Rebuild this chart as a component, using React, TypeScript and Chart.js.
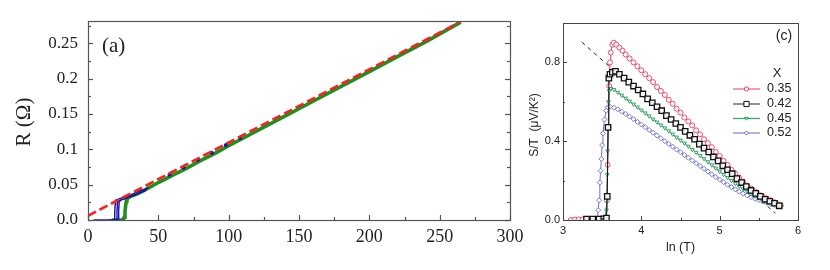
import React, { useEffect, useRef } from 'react';
import { Chart, registerables } from 'chart.js';
Chart.register(...registerables);

// ---------- Panel (a): R vs T ----------
const aXTicks = [0, 50, 100, 150, 200, 250, 300];
const aXMinor = [25, 75, 125, 175, 225, 275];
const aYTicks = [0, 0.05, 0.1, 0.15, 0.2, 0.25];
const aYTickLabels = ['0.0', '0.05', '0.1', '0.15', '0.2', '0.25'];
const aYMinor = [0.025, 0.075, 0.125, 0.175, 0.225, 0.275];

const aGreenT = [17, 20, 23, 25, 25.8, 26.3, 26.8, 27.3, 27.7, 30, 35, 40, 50, 60, 70, 80, 90, 100, 120, 140, 160, 180, 200, 220, 240, 265];
const aGreenR = [0, 0, 0, 0, 0.004, 0.012, 0.021, 0.027, 0.030, 0.033, 0.037, 0.042, 0.053, 0.063, 0.073, 0.084, 0.094, 0.105, 0.126, 0.147, 0.168, 0.189, 0.210, 0.231, 0.252, 0.280];

const aBlue1T = [4, 10, 15, 18.5, 19, 19.3, 19.6, 22, 25, 28, 31, 34, 37, 40, 43];
const aBlue1R = [0, 0, 0, 0, 0.010, 0.022, 0.028, 0.030, 0.032, 0.034, 0.036, 0.039, 0.042, 0.043, 0.046];
const aBlue2T = [15, 18, 20.3, 20.6, 21, 21.5, 23, 26, 30, 34, 38, 42];
const aBlue2R = [0, 0, 0, 0.012, 0.024, 0.027, 0.028, 0.030, 0.033, 0.036, 0.040, 0.044];
const aBlue3T = [17, 21.5, 21.8, 22.2, 24, 28, 33, 38, 41];
const aBlue3R = [0, 0, 0.014, 0.026, 0.029, 0.032, 0.035, 0.039, 0.042];
const aBlueDotT = [58, 68, 78, 88, 98, 108];
const aBlueDotR = [0.064, 0.074, 0.085, 0.095, 0.106, 0.116];

const aFitT = [0, 265];
const aFitR = [0.006, 0.2805];

// ---------- Panel (c): S/T vs ln T ----------
const cXTicks = [3, 4, 5, 6];
const cXMinor = [3.5, 4.5, 5.5];
const cYTicks = [0, 0.4, 0.8];
const cYTickLabels = ['0.0', '0.4', '0.8'];
const cYMinor = [0.2, 0.6, 1.0];
const cSeriesLabels = ['0.35', '0.42', '0.45', '0.52'];

const c035X = [3.10, 3.15, 3.20, 3.25, 3.30, 3.35, 3.40, 3.45, 3.50, 3.54, 3.56, 3.57, 3.58, 3.59, 3.60, 3.61, 3.63, 3.65, 3.68, 3.72, 3.76, 3.80, 3.85, 3.90, 3.95, 4.00, 4.05, 4.10, 4.15, 4.20, 4.25, 4.30, 4.35, 4.40, 4.45, 4.50, 4.55, 4.60, 4.65, 4.70, 4.75, 4.80, 4.85, 4.90, 4.95, 5.00, 5.05, 5.10, 5.15, 5.20, 5.25, 5.30, 5.35, 5.40, 5.45, 5.50, 5.55, 5.60, 5.65, 5.70, 5.75, 5.78];
const c035Y = [0.000, 0.002, 0.003, 0.003, 0.004, 0.004, 0.005, 0.005, 0.006, 0.010, 0.10, 0.28, 0.47, 0.68, 0.80, 0.85, 0.89, 0.90, 0.89, 0.875, 0.86, 0.84, 0.82, 0.80, 0.78, 0.76, 0.74, 0.72, 0.70, 0.675, 0.655, 0.635, 0.61, 0.59, 0.565, 0.545, 0.52, 0.50, 0.48, 0.455, 0.435, 0.41, 0.39, 0.37, 0.345, 0.325, 0.30, 0.28, 0.255, 0.235, 0.215, 0.195, 0.175, 0.16, 0.145, 0.13, 0.12, 0.11, 0.10, 0.09, 0.08, 0.075];

const c042X = [3.30, 3.38, 3.46, 3.52, 3.555, 3.565, 3.575, 3.585, 3.60, 3.63, 3.67, 3.72, 3.78, 3.84, 3.90, 3.96, 4.02, 4.08, 4.14, 4.20, 4.26, 4.32, 4.38, 4.44, 4.50, 4.56, 4.62, 4.68, 4.74, 4.80, 4.86, 4.92, 4.98, 5.04, 5.10, 5.16, 5.22, 5.28, 5.34, 5.40, 5.46, 5.52, 5.58, 5.64, 5.70, 5.76];
const c042Y = [0.005, 0.005, 0.005, 0.006, 0.01, 0.12, 0.47, 0.72, 0.74, 0.75, 0.755, 0.74, 0.72, 0.70, 0.68, 0.66, 0.64, 0.615, 0.595, 0.575, 0.555, 0.53, 0.51, 0.49, 0.47, 0.45, 0.43, 0.41, 0.385, 0.365, 0.345, 0.32, 0.30, 0.275, 0.255, 0.235, 0.21, 0.19, 0.17, 0.15, 0.135, 0.12, 0.105, 0.095, 0.085, 0.072];

const c045X = [3.30, 3.40, 3.50, 3.545, 3.555, 3.56, 3.565, 3.57, 3.575, 3.58, 3.59, 3.61, 3.65, 3.70, 3.75, 3.80, 3.85, 3.90, 3.95, 4.00, 4.05, 4.10, 4.15, 4.20, 4.25, 4.30, 4.35, 4.40, 4.45, 4.50, 4.55, 4.60, 4.65, 4.70, 4.75, 4.80, 4.85, 4.90, 4.95, 5.00, 5.05, 5.10, 5.15, 5.20, 5.25, 5.30, 5.35, 5.40, 5.45, 5.50, 5.55, 5.60, 5.65, 5.70, 5.75, 5.78];
const c045Y = [0.004, 0.005, 0.006, 0.01, 0.05, 0.12, 0.23, 0.35, 0.47, 0.60, 0.655, 0.667, 0.662, 0.648, 0.633, 0.618, 0.603, 0.588, 0.573, 0.558, 0.543, 0.528, 0.512, 0.497, 0.482, 0.467, 0.452, 0.436, 0.42, 0.405, 0.39, 0.374, 0.358, 0.343, 0.327, 0.311, 0.295, 0.279, 0.263, 0.247, 0.231, 0.215, 0.20, 0.185, 0.171, 0.157, 0.144, 0.132, 0.121, 0.111, 0.102, 0.094, 0.087, 0.08, 0.074, 0.07];

const c052X = [3.30, 3.36, 3.42, 3.44, 3.45, 3.46, 3.47, 3.48, 3.49, 3.50, 3.51, 3.53, 3.55, 3.57, 3.60, 3.65, 3.70, 3.75, 3.80, 3.85, 3.90, 3.95, 4.00, 4.05, 4.10, 4.15, 4.20, 4.25, 4.30, 4.35, 4.40, 4.45, 4.50, 4.55, 4.60, 4.65, 4.70, 4.75, 4.80, 4.85, 4.90, 4.95, 5.00, 5.05, 5.10, 5.15, 5.20, 5.25, 5.30, 5.35, 5.40, 5.45, 5.50, 5.55, 5.60, 5.65, 5.70, 5.75, 5.78];
const c052Y = [0.004, 0.005, 0.005, 0.01, 0.05, 0.10, 0.19, 0.25, 0.31, 0.38, 0.44, 0.51, 0.555, 0.572, 0.575, 0.57, 0.562, 0.55, 0.538, 0.525, 0.512, 0.498, 0.485, 0.471, 0.457, 0.443, 0.429, 0.415, 0.40, 0.386, 0.372, 0.358, 0.344, 0.33, 0.316, 0.302, 0.288, 0.274, 0.26, 0.246, 0.232, 0.218, 0.205, 0.192, 0.179, 0.167, 0.155, 0.144, 0.134, 0.125, 0.116, 0.108, 0.101, 0.094, 0.088, 0.082, 0.077, 0.072, 0.07];

const cGuideX = [3.24, 5.71];
const cGuideY = [0.903, 0.035];

function xy(xs: number[], ys: number[]) {
  return xs.map((x, i) => ({ x, y: ys[i] }));
}

type TickSpec = { major: number[]; minor: number[] };
function framePlugin(cfg: {
  color: string; width: number; majorLen: number; minorLen: number;
  left?: TickSpec; right?: TickSpec; bottom?: TickSpec;
}) {
  return {
    id: 'frameTicks',
    afterDatasetsDraw(chart: any) {
      const { ctx, chartArea: ca, scales } = chart;
      const xs = scales.x, ys = scales.y;
      ctx.save();
      ctx.strokeStyle = cfg.color;
      ctx.lineWidth = cfg.width;
      ctx.strokeRect(ca.left + 0.5, ca.top + 0.5, ca.right - ca.left, ca.bottom - ca.top);
      const line = (x1: number, y1: number, x2: number, y2: number) => {
        ctx.beginPath(); ctx.moveTo(x1, y1); ctx.lineTo(x2, y2); ctx.stroke();
      };
      if (cfg.left) {
        cfg.left.major.forEach(v => { const y = Math.round(ys.getPixelForValue(v)) + 0.5; line(ca.left, y, ca.left + cfg.majorLen, y); });
        cfg.left.minor.forEach(v => { const y = Math.round(ys.getPixelForValue(v)) + 0.5; line(ca.left, y, ca.left + cfg.minorLen, y); });
      }
      if (cfg.right) {
        cfg.right.major.forEach(v => { const y = Math.round(ys.getPixelForValue(v)) + 0.5; line(ca.right, y, ca.right - cfg.majorLen, y); });
        cfg.right.minor.forEach(v => { const y = Math.round(ys.getPixelForValue(v)) + 0.5; line(ca.right, y, ca.right - cfg.minorLen, y); });
      }
      if (cfg.bottom) {
        cfg.bottom.major.forEach(v => { const x = Math.round(xs.getPixelForValue(v)) + 0.5; line(x, ca.bottom, x, ca.bottom - cfg.majorLen); });
        cfg.bottom.minor.forEach(v => { const x = Math.round(xs.getPixelForValue(v)) + 0.5; line(x, ca.bottom, x, ca.bottom - cfg.minorLen); });
      }
      ctx.restore();
    },
  };
}

function textPlugin(draw: (ctx: CanvasRenderingContext2D, chart: any) => void) {
  return {
    id: 'texts',
    afterDraw(chart: any) {
      const ctx = chart.ctx;
      ctx.save();
      draw(ctx, chart);
      ctx.restore();
    },
  };
}

function fixedScale(width: number | null, height: number | null, ticks: number[]) {
  return {
    afterBuildTicks(scale: any) { scale.ticks = ticks.map(v => ({ value: v })); },
    afterFit(scale: any) {
      if (width !== null) scale.width = width;
      if (height !== null) scale.height = height;
      scale.paddingLeft = 0; scale.paddingRight = 0; scale.paddingTop = 0; scale.paddingBottom = 0;
    },
  };
}

const SERIF = "'Liberation Serif', serif";
const SANS = "'Liberation Sans', sans-serif";

function makeA(canvas: HTMLCanvasElement) {
  return new Chart(canvas, {
    type: 'scatter',
    data: {
      datasets: [
        { label: 'fit', data: xy(aFitT, aFitR), showLine: true, borderColor: '#ff1e1e', borderWidth: 2.6, borderDash: [9, 4], pointRadius: 0, order: 0 },
        { label: 'b1', data: xy(aBlue1T, aBlue1R), showLine: true, borderColor: '#1414a8', borderWidth: 1.4, pointRadius: 0, order: 1 },
        { label: 'b2', data: xy(aBlue2T, aBlue2R), showLine: true, borderColor: '#1414a8', borderWidth: 1.4, pointRadius: 0, order: 1 },
        { label: 'b3', data: xy(aBlue3T, aBlue3R), showLine: true, borderColor: '#1414a8', borderWidth: 1.4, pointRadius: 0, order: 1 },
        { label: 'bd', data: xy(aBlueDotT, aBlueDotR), showLine: false, backgroundColor: '#1414a8', borderColor: '#1414a8', pointRadius: 1.6, order: 1 },
        { label: 'g', data: xy(aGreenT, aGreenR), showLine: true, borderColor: '#1f8f1f', borderWidth: 3.6, pointRadius: 0, order: 2 },
      ],
    },
    options: {
      responsive: false, animation: false, devicePixelRatio: 1,
      layout: { padding: { left: 0, top: 21, right: 30, bottom: 0 } },
      plugins: { legend: { display: false }, tooltip: { enabled: false } },
      scales: {
        x: {
          type: 'linear', min: 0, max: 300,
          grid: { display: false, drawTicks: false }, border: { display: false },
          ticks: { padding: 6, color: '#222', font: { family: SERIF, size: 18 }, maxRotation: 0, callback: (v: any) => String(v) },
          ...fixedScale(null, 50, aXTicks),
        },
        y: {
          type: 'linear', min: 0, max: 0.2815,
          grid: { display: false, drawTicks: false }, border: { display: false },
          ticks: { padding: 10, color: '#222', font: { family: SERIF, size: 17 }, callback: (_v: any, i: number) => aYTickLabels[i] },
          ...fixedScale(88, null, aYTicks),
        },
      },
    },
    plugins: [
      framePlugin({ color: '#555', width: 1.2, majorLen: 5, minorLen: 3,
        left: { major: aYTicks, minor: aYMinor }, right: { major: aYTicks, minor: aYMinor }, bottom: { major: aXTicks, minor: aXMinor } }),
      textPlugin((ctx) => {
        ctx.fillStyle = '#222';
        ctx.font = `21px ${SERIF}`;
        ctx.textBaseline = 'middle';
        ctx.textAlign = 'left';
        ctx.fillText('(a)', 102, 46);
        ctx.translate(24, 122);
        ctx.rotate(-Math.PI / 2);
        ctx.textAlign = 'center';
        ctx.fillText('R (Ω)', 0, 0);
      }),
    ],
  } as any);
}

const cColors = ['#e8405e', '#111111', '#2a9a5c', '#6f6fc4'];
const cLegendColors = ['#e86a84', '#555555', '#3aaa6c', '#8c8cd0'];
const cStyles: any[] = [
  { pointStyle: 'circle', pointRadius: 2.5, pointRotation: 0 },
  { pointStyle: 'rect', pointRadius: 3.8, pointRotation: 0 },
  { pointStyle: 'triangle', pointRadius: 2.2, pointRotation: 180 },
  { pointStyle: 'rectRot', pointRadius: 2.5, pointRotation: 0 },
];

function makeC(canvas: HTMLCanvasElement) {
  const series = [xy(c035X, c035Y), xy(c042X, c042Y), xy(c045X, c045Y), xy(c052X, c052Y)];
  const order = [2, 0, 1, 3];
  const datasets: any[] = series.map((d, i) => ({
    label: cSeriesLabels[i], data: d, showLine: true,
    borderColor: cColors[i], borderWidth: 1,
    pointBorderColor: cColors[i], pointBackgroundColor: 'rgba(255,255,255,0.9)',
    pointBorderWidth: i === 1 ? 1.3 : 0.9,
    ...cStyles[i], order: order[i],
  }));
  datasets.push({ label: 'guide', data: xy(cGuideX, cGuideY), showLine: true, borderColor: '#222', borderWidth: 1, borderDash: [4, 4], pointRadius: 0, order: 5 });
  return new Chart(canvas, {
    type: 'scatter',
    data: { datasets },
    options: {
      responsive: false, animation: false, devicePixelRatio: 1,
      layout: { padding: { left: 0, top: 23, right: 32, bottom: 0 } },
      plugins: { legend: { display: false }, tooltip: { enabled: false } },
      scales: {
        x: {
          type: 'linear', min: 3, max: 6,
          grid: { display: false, drawTicks: false }, border: { display: false },
          ticks: { padding: 4, color: '#222', font: { family: SANS, size: 11 }, maxRotation: 0, callback: (v: any) => String(v) },
          ...fixedScale(null, 50, cXTicks),
        },
        y: {
          type: 'linear', min: 0, max: 1.0,
          grid: { display: false, drawTicks: false }, border: { display: false },
          ticks: { padding: 3, color: '#222', font: { family: SANS, size: 11 }, callback: (_v: any, i: number) => cYTickLabels[i] },
          ...fixedScale(43, null, cYTicks),
        },
      },
    },
    plugins: [
      framePlugin({ color: '#444', width: 1, majorLen: 4, minorLen: 2,
        left: { major: cYTicks, minor: cYMinor }, bottom: { major: cXTicks, minor: cXMinor } }),
      textPlugin((ctx, chart) => {
        const ca = chart.chartArea;
        ctx.fillStyle = '#222';
        ctx.textBaseline = 'middle';
        ctx.textAlign = 'center';
        ctx.font = `14px ${SANS}`;
        ctx.fillText('(c)', 264, 36);
        ctx.font = `13px ${SANS}`;
        ctx.fillText('X', 257, 73);
        ctx.font = `12.5px ${SANS}`;
        ctx.fillText('ln (T)', (ca.left + ca.right) / 2, 248);
        // legend
        const ys = [89, 104, 118.5, 133];
        cSeriesLabels.forEach((lab, i) => {
          const y = ys[i];
          ctx.strokeStyle = cLegendColors[i];
          ctx.lineWidth = 1.3;
          ctx.beginPath(); ctx.moveTo(213, y); ctx.lineTo(240, y); ctx.stroke();
          ctx.lineWidth = 1;
          const st = cStyles[i];
          ctx.fillStyle = '#fff';
          ctx.strokeStyle = cColors[i];
          ctx.beginPath();
          const mx = 226.5;
          const r = st.pointRadius * 0.85;
          if (st.pointStyle === 'circle') { ctx.arc(mx, y, r, 0, Math.PI * 2); }
          else if (st.pointStyle === 'rect') { ctx.rect(mx - r * 0.8, y - r * 0.8, r * 1.6, r * 1.6); }
          else if (st.pointStyle === 'triangle') { ctx.moveTo(mx - r, y - r * 0.6); ctx.lineTo(mx + r, y - r * 0.6); ctx.lineTo(mx, y + r * 0.9); ctx.closePath(); }
          else { ctx.moveTo(mx, y - r); ctx.lineTo(mx + r, y); ctx.lineTo(mx, y + r); ctx.lineTo(mx - r, y); ctx.closePath(); }
          ctx.fill(); ctx.stroke();
          ctx.fillStyle = '#222';
          ctx.textAlign = 'left';
          ctx.font = `12.5px ${SANS}`;
          ctx.fillText(lab, 247, y);
        });
        // y title
        ctx.translate(15, 125);
        ctx.rotate(-Math.PI / 2);
        ctx.textAlign = 'center';
        ctx.font = `12px ${SANS}`;
        ctx.fillText('S/T  (μV/K²)', 0, 0);
      }),
    ],
  } as any);
}

export default function App() {
  const refA = useRef<HTMLCanvasElement>(null);
  const refC = useRef<HTMLCanvasElement>(null);
  useEffect(() => {
    const a = makeA(refA.current!);
    const c = makeC(refC.current!);
    return () => { a.destroy(); c.destroy(); };
  }, []);
  return (
    <div style={{ position: 'fixed', left: 0, top: 0, width: 830, height: 270, background: '#fff' }}>
      <canvas ref={refA} width={540} height={270} style={{ position: 'absolute', left: 0, top: 0 }} />
      <canvas ref={refC} width={310} height={270} style={{ position: 'absolute', left: 520, top: 0 }} />
    </div>
  );
}
